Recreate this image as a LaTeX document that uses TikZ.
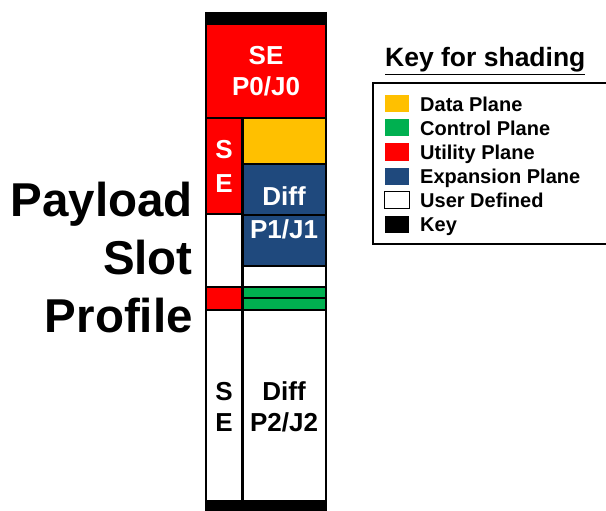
\documentclass[tikz,border=0pt]{standalone}
\usepackage{fontspec}
\setmainfont{Liberation Sans}
\definecolor{dataplane}{HTML}{FFC000}
\definecolor{ctrlplane}{HTML}{00B050}
\definecolor{utilplane}{HTML}{FF0000}
\definecolor{expplane}{HTML}{1F497D}

\begin{document}
\begin{tikzpicture}[x=1pt, y=-1pt,
  cell/.style={draw=black, line width=1.4pt},
  slottext/.style={font=\bfseries\fontsize{26}{31}\selectfont, align=center, inner sep=0pt},
  keytext/.style={font=\bfseries\fontsize{20}{24}\selectfont, anchor=base west, inner sep=0pt},
  swatch/.style={minimum width=24pt, minimum height=17pt, inner sep=0pt}]
\useasboundingbox (0,0) rectangle (606,511);

% slot column
\fill[black] (206,12) rectangle (326,24);
\draw[cell, fill=utilplane] (206,24) rectangle (326,118);
\draw[cell, fill=utilplane] (206,118) rectangle (242,214);
\draw[cell, fill=white] (206,214) rectangle (242,287);
\draw[cell, fill=dataplane] (242,118) rectangle (326,164);
\draw[cell, fill=expplane] (242,164) rectangle (326,215);
\draw[cell, fill=expplane] (242,215) rectangle (326,266);
\draw[cell, fill=white] (242,266) rectangle (326,287);
\draw[cell, fill=utilplane] (206,287) rectangle (242,310);
\draw[cell, fill=ctrlplane] (242,287) rectangle (326,298);
\draw[cell, fill=ctrlplane] (242,298) rectangle (326,310);
\draw[cell, fill=white] (206,310) rectangle (242,501);
\draw[cell, fill=white] (242,310) rectangle (326,501);
\fill[black] (206,501) rectangle (326,511);
\draw[line width=3pt] (242,118) -- (242,501);
\draw[line width=2pt] (206,12) -- (206,511) (326,12) -- (326,511);

\node[slottext, text=white] (se0) at (266,71) {SE\\P0/J0};
\node[slottext, text=white, font=\bfseries\fontsize{26}{34}\selectfont] (se1) at (224,166) {S\\E};
\node[slottext, text=white, font=\bfseries\fontsize{26}{33}\selectfont] (diff1) at (284,213) {Diff\\P1/J1};
\node[slottext] (se2) at (224,407) {S\\E};
\node[slottext] (diff2) at (284,407) {Diff\\P2/J2};

\node[font=\bfseries\fontsize{47.5}{58}\selectfont, align=right, anchor=east, inner sep=0pt]
  (title) at (193,258) {Payload\\Slot\\Profile};

% key
\node[font=\bfseries\fontsize{26.5}{30}\selectfont, anchor=base west, inner sep=0pt]
  (keyhead) at (385,67) {\underline{Key for shading}};
\draw[line width=1.2pt] (606,83) -- (373,83) -- (373,244) -- (606,244);
\foreach \col/\txt [count=\i] in {dataplane/Data Plane, ctrlplane/Control Plane,
    utilplane/Utility Plane, expplane/Expansion Plane, white/User Defined, black/Key} {
  \node[swatch, fill=\col] (sw\i) at (397,80+24*\i) {};
  \node[keytext] (kt\i) at (420,87.5+24*\i) {\txt};
}
\draw[line width=1.2pt] (sw5.north west) rectangle (sw5.south east);
\end{tikzpicture}
\end{document}
